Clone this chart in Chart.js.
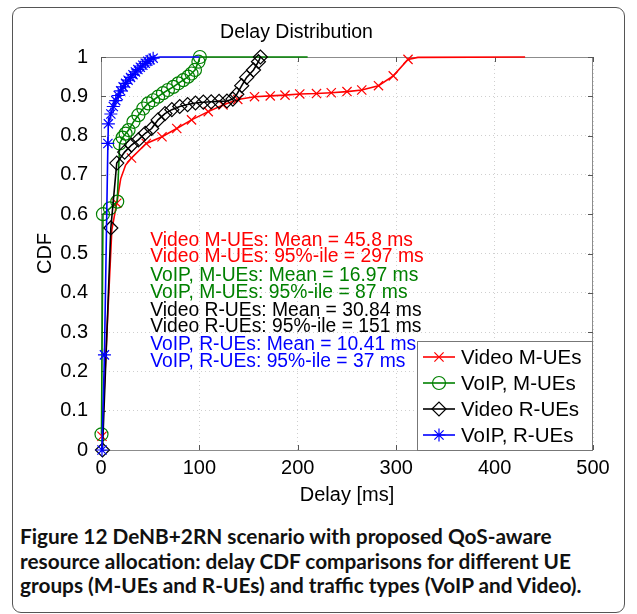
<!DOCTYPE html>
<html>
<head>
<meta charset="utf-8">
<script src="https://cdn.jsdelivr.net/npm/chart.js@4.4.1/dist/chart.umd.min.js"></script>
<style>
  html, body { margin: 0; padding: 0; background: #fff; }
  body { width: 637px; height: 614px; overflow: hidden; position: relative; }
  #frame { position: absolute; left: 12px; top: 7px; width: 613px; height: 606px;
           border: 1px solid #555; border-radius: 9px; box-sizing: border-box; }
  #plot { position: absolute; left: 0; top: 0; }
  #caption { position: absolute; left: 20px; top: 524px; color: #111;
             font: 700 20.8px Lato, "Open Sans", sans-serif; line-height: 24.5px; white-space: nowrap; }
</style>
</head>
<body>
<div id="frame"></div>
<canvas id="plot" width="637" height="510"></canvas>
<div id="caption">Figure 12 DeNB+2RN scenario with proposed QoS-aware<br>resource allocation: delay CDF comparisons for different UE<br>groups (M-UEs and R-UEs) and traffic types (VoIP and Video).</div>
<script>
/* ================= DATA ================= */

// Video M-UEs (red, x markers)
const videoMDelay = [1, 16, 31, 46, 62, 77, 92, 109, 124, 139, 156, 172, 187, 202, 219, 234, 250, 265, 282, 297, 312];
const videoMCdf   = [0.035, 0.628, 0.743, 0.78, 0.797, 0.818, 0.84, 0.861, 0.878, 0.892, 0.899, 0.901, 0.903, 0.906, 0.907, 0.909, 0.912, 0.916, 0.927, 0.952, 0.994];
// points where the line bends between markers
const videoMBendDelay = [11, 20, 25, 322, 431];
const videoMBendCdf   = [0.56, 0.69, 0.725, 0.999, 1];

// VoIP, M-UEs (green, circles)
const voipMDelay = [0.5, 2, 9, 16.5, 19, 22, 25, 28, 33, 38, 43, 48, 53, 58, 63, 68, 73.5, 78.5, 83.5, 88.5, 92, 95.5, 99, 100.5];
const voipMCdf   = [0.04, 0.6, 0.615, 0.632, 0.78, 0.795, 0.805, 0.814, 0.835, 0.852, 0.869, 0.882, 0.89, 0.899, 0.908, 0.916, 0.924, 0.933, 0.941, 0.95, 0.958, 0.967, 0.988, 1.0];
const voipMBendDelay = [210];
const voipMBendCdf   = [1];

// Video R-UEs (black, diamonds)
const videoRDelay = [1.5, 10, 16, 24, 31, 38, 45, 51.5, 58, 65, 72, 80, 88, 96, 104, 112, 120, 128, 134, 138, 143, 148, 155, 160, 162];
const videoRCdf   = [0, 0.565, 0.73, 0.758, 0.776, 0.789, 0.806, 0.818, 0.84, 0.856, 0.866, 0.874, 0.879, 0.883, 0.885, 0.886, 0.887, 0.888, 0.893, 0.905, 0.927, 0.948, 0.967, 0.988, 1.0];
const videoRBendDelay = [];
const videoRBendCdf   = [];

// VoIP, R-UEs (blue, asterisks)
const voipRDelay = [1, 3.5, 7, 7.5, 10, 12.5, 15, 17.5, 20, 22.5, 25, 27.5, 30, 32.5, 35, 37.5, 40, 42.5, 45, 47.5, 50, 53];
const voipRCdf   = [0, 0.242, 0.78, 0.83, 0.855, 0.874, 0.889, 0.902, 0.914, 0.924, 0.933, 0.941, 0.948, 0.955, 0.962, 0.968, 0.974, 0.979, 0.984, 0.989, 0.993, 0.997];
const voipRBendDelay = [60, 100];
const voipRBendCdf   = [1, 1];

const seriesNames = ["Video M-UEs", "VoIP, M-UEs", "Video R-UEs", "VoIP, R-UEs"];

const statLines = [
  "Video M-UEs: Mean = 45.8 ms",
  "Video M-UEs: 95%-ile = 297 ms",
  "VoIP, M-UEs: Mean = 16.97 ms",
  "VoIP, M-UEs: 95%-ile = 87 ms",
  "Video R-UEs: Mean = 30.84 ms",
  "Video R-UEs: 95%-ile = 151 ms",
  "VoIP, R-UEs: Mean = 10.41 ms",
  "VoIP, R-UEs: 95%-ile = 37 ms"
];

/* ================= STYLE ================= */

const RED = "#ff0000", GREEN = "#008000", BLACK = "#000000", BLUE = "#0000ff";
const colors = [RED, GREEN, BLACK, BLUE];
const marks = [
  { style: "crossRot", r: 6.5 },
  { style: "circle", r: 6.5 },
  { style: "rectRot", r: 7 },
  { style: "star", r: 6.5 }
];
const statColors = [RED, RED, GREEN, GREEN, BLACK, BLACK, BLUE, BLUE];
// vertical position of each stat line, in CDF units
const statAt = [0.532, 0.491, 0.443, 0.4, 0.354, 0.313, 0.267, 0.225];
const FONT = "'Liberation Sans', Arial, sans-serif";

/* ================= HELPERS ================= */

function toPoints(xs, ys) {
  return xs.map((x, i) => ({ x: x, y: ys[i] }));
}

function curve(xs, ys, bx, by) {
  return toPoints(xs, ys).concat(toPoints(bx, by)).sort((a, b) => a.x - b.x);
}

const curves = [
  [videoMDelay, videoMCdf, videoMBendDelay, videoMBendCdf],
  [voipMDelay, voipMCdf, voipMBendDelay, voipMBendCdf],
  [videoRDelay, videoRCdf, videoRBendDelay, videoRBendCdf],
  [voipRDelay, voipRCdf, voipRBendDelay, voipRBendCdf]
];

const datasets = [];
curves.forEach((c, i) => {
  // blue is plotted last in the figure, so it sits on top
  const order = 3 - i;
  datasets.push({
    label: seriesNames[i],
    data: curve(c[0], c[1], c[2], c[3]),
    showLine: true,
    borderColor: colors[i],
    borderWidth: 1.6,
    pointRadius: 0,
    tension: 0,
    clip: false,
    order: order
  });
  datasets.push({
    label: seriesNames[i] + " markers",
    data: toPoints(c[0], c[1]),
    showLine: false,
    pointStyle: marks[i].style,
    pointRadius: marks[i].r,
    pointBorderColor: colors[i],
    pointBackgroundColor: "rgba(0,0,0,0)",
    pointBorderWidth: 1.2,
    clip: false,
    order: order
  });
});

/* ================= AXES BOX, STATS, LEGEND ================= */

const matlabBits = {
  id: "matlabBits",
  beforeDatasetsDraw(chart) {
    const { ctx, chartArea: a, scales: { x, y } } = chart;
    ctx.save();
    ctx.strokeStyle = "#8c8c8c";
    ctx.lineWidth = 1;
    ctx.strokeRect(a.left + 0.5, a.top + 0.5, a.right - a.left - 1, a.bottom - a.top);
    ctx.strokeStyle = "#555";
    ctx.beginPath();
    x.ticks.forEach(t => {
      const px = Math.round(x.getPixelForValue(t.value)) + 0.5;
      ctx.moveTo(px, a.bottom); ctx.lineTo(px, a.bottom - 5);
      ctx.moveTo(px, a.top); ctx.lineTo(px, a.top + 5);
    });
    y.ticks.forEach(t => {
      const py = Math.round(y.getPixelForValue(t.value)) + 0.5;
      ctx.moveTo(a.left, py); ctx.lineTo(a.left + 5, py);
      ctx.moveTo(a.right, py); ctx.lineTo(a.right - 5, py);
    });
    ctx.stroke();
    ctx.restore();
  },
  afterDraw(chart) {
    const { ctx, chartArea: a, scales: { x, y } } = chart;
    ctx.save();

    // mean / percentile notes
    ctx.font = "19.3px " + FONT;
    ctx.textBaseline = "middle";
    ctx.textAlign = "left";
    statLines.forEach((s, i) => {
      ctx.fillStyle = statColors[i];
      ctx.fillText(s, x.getPixelForValue(50), y.getPixelForValue(statAt[i]));
    });

    // legend box, bottom right of the axes
    const bw = 175, bh = 109;
    const bx = a.right - bw - 1, by = a.bottom - bh;
    ctx.fillStyle = "#fff";
    ctx.fillRect(bx, by, bw, bh);
    ctx.strokeStyle = "#777";
    ctx.lineWidth = 1;
    ctx.strokeRect(bx + 0.5, by + 0.5, bw, bh);
    ctx.font = "20.5px " + FONT;
    seriesNames.forEach((name, i) => {
      const ry = by + 16 + i * 26;
      ctx.strokeStyle = colors[i];
      ctx.lineWidth = 1.6;
      ctx.beginPath();
      ctx.moveTo(bx + 6, ry); ctx.lineTo(bx + 38, ry);
      ctx.stroke();
      ctx.fillStyle = "rgba(0,0,0,0)";
      ctx.lineWidth = 1.2;
      Chart.helpers.drawPoint(ctx, { pointStyle: marks[i].style, radius: marks[i].r, rotation: 0, borderWidth: 1.2 }, bx + 22, ry);
      ctx.fillStyle = "#000";
      ctx.fillText(name, bx + 44, ry + 1);
    });
    ctx.restore();
  }
};

/* ================= CHART ================= */

new Chart(document.getElementById("plot"), {
  type: "scatter",
  data: { datasets: datasets },
  options: {
    responsive: false,
    animation: false,
    layout: { padding: { left: 0, right: 44, top: 0, bottom: 0 } },
    plugins: {
      legend: { display: false },
      tooltip: { enabled: false },
      title: {
        display: true,
        text: "Delay Distribution",
        color: "#000",
        font: { family: FONT, size: 19.5, weight: "normal" },
        padding: { top: 21, bottom: 12.6 }
      }
    },
    scales: {
      x: {
        type: "linear",
        min: 0,
        max: 500,
        afterFit: s => { s.height = 60; },
        ticks: { stepSize: 100, color: "#000", padding: 6, font: { family: FONT, size: 20 } },
        grid: { color: "#cfcfcf", drawTicks: false },
        border: { display: false, dash: [1, 3] },
        title: { display: true, text: "Delay [ms]", color: "#000", font: { family: FONT, size: 20 }, padding: { top: 0, bottom: 3 } }
      },
      y: {
        min: 0,
        max: 1,
        afterFit: s => { s.width = 101; },
        ticks: {
          stepSize: 0.1,
          color: "#000",
          padding: 13,
          font: { family: FONT, size: 20 },
          callback: v => String(+v.toFixed(1))
        },
        grid: { color: "#cfcfcf", drawTicks: false },
        border: { display: false, dash: [1, 3] },
        title: { display: true, text: "CDF", color: "#000", font: { family: FONT, size: 20 }, padding: { top: 33, bottom: 0 } }
      }
    }
  },
  plugins: [matlabBits]
});
</script>
</body>
</html>
